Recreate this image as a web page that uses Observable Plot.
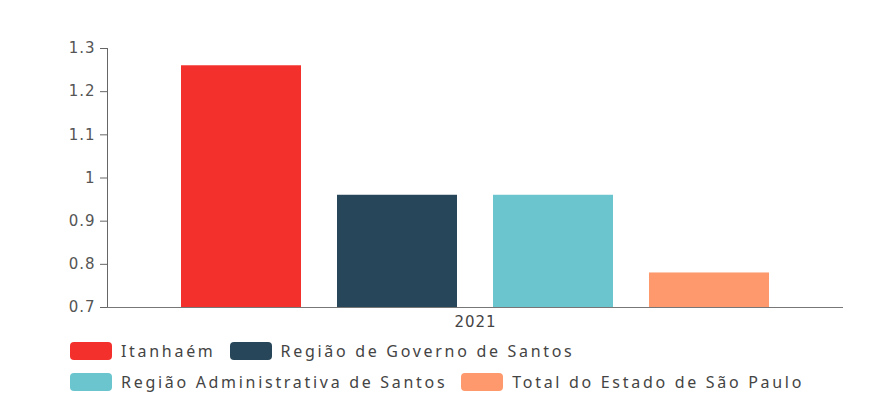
<!DOCTYPE html>
<html>
<head>
<meta charset="utf-8">
<script src="https://cdn.jsdelivr.net/npm/d3@7"></script>
<script src="https://cdn.jsdelivr.net/npm/@observablehq/plot@0.6"></script>
<style>
  body { margin: 0; background: #fff; }
  #legend { font-family: "Noto Sans", sans-serif; font-size: 16px; color: #444; letter-spacing: 2.7px; padding-left: 70px; }
  .row { display: flex; align-items: center; height: 31px; }
  .item { display: flex; align-items: center; margin-right: 14px; }
  .sw { width: 42px; height: 18px; border-radius: 4px; margin-right: 9px; }
</style>
</head>
<body>
<div id="chart"></div>
<div id="legend"></div>
<script>
const years = ["2021"];
const series = ["Itanhaém", "Região de Governo de Santos", "Região Administrativa de Santos", "Total do Estado de São Paulo"];
const values = [1.26, 0.96, 0.96, 0.78];
const colors = ["#f3302b", "#274659", "#6ac5ce", "#fe996d"];
const yTicks = [0.7, 0.8, 0.9, 1.0, 1.1, 1.2, 1.3];

const data = series.map((s, i) => ({ series: s, value: values[i], year: years[0] }));

const chart = Plot.plot({
  width: 892,
  height: 335,
  marginLeft: 107,
  marginRight: 49,
  marginTop: 48,
  marginBottom: 28,
  style: { fontFamily: "'DejaVu Sans', sans-serif", fontSize: "15px", color: "#555", letterSpacing: "1px" },
  x: { domain: series, paddingInner: 0.232, paddingOuter: 0.473, axis: null },
  y: { domain: [0.7, 1.3], axis: null },
  color: { domain: series, range: colors },
  marks: [
    Plot.barY(data, { x: "series", y1: 0.7, y2: "value", fill: "series" }),
    Plot.axisY({ ticks: yTicks, tickFormat: d => String(+d.toFixed(1)), tickSize: 7, tickPadding: 5, stroke: "#666", color: "#555", label: null }),
    Plot.frame({ anchor: "left", stroke: "#666" }),
    Plot.ruleY([0.7], { stroke: "#777" }),
    Plot.text(years, { frameAnchor: "bottom", dy: 19, text: d => d, fill: "#444", fontSize: 15, letterSpacing: "1.5px" })
  ]
});
document.getElementById("chart").appendChild(chart);

const legend = document.getElementById("legend");
const rows = [[0, 1], [2, 3]];
rows.forEach(r => {
  const row = document.createElement("div");
  row.className = "row";
  r.forEach(i => {
    const it = document.createElement("div");
    it.className = "item";
    const sw = document.createElement("div");
    sw.className = "sw";
    sw.style.background = colors[i];
    const t = document.createElement("span");
    t.textContent = series[i];
    it.appendChild(sw); it.appendChild(t);
    row.appendChild(it);
  });
  legend.appendChild(row);
});
</script>
</body>
</html>
